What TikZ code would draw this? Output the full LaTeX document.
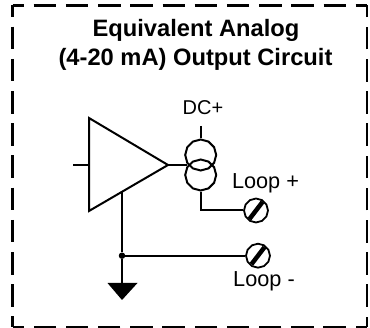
\documentclass[tikz,border=0pt]{standalone}
\usepackage{fontspec}
\setmainfont{Liberation Sans}
\usetikzlibrary{shapes.geometric}
\tikzset{
  wire/.style={line width=2pt,black},
  lobe/.style={regular polygon,regular polygon sides=12,regular polygon rotate=15,draw,line width=2pt,minimum size=31pt,inner sep=0pt},
  termnode/.style={regular polygon,regular polygon sides=12,regular polygon rotate=15,draw,line width=1.8pt,minimum size=24pt,inner sep=0pt,fill=white},
  slot/.style={line width=4.5pt,black},
  lbl/.style={font=\fontsize{21.7}{21.7}\selectfont,inner sep=0pt,anchor=base},
  dclbl/.style={font=\fontsize{20}{20}\selectfont,inner sep=0pt,anchor=base},
  ttl/.style={font=\bfseries\fontsize{23.7}{23.7}\selectfont,inner sep=0pt,anchor=base},
  framebox/.style={line width=2.2pt,dash pattern=on 22.5pt off 9.7pt}
}
\begin{document}
\begin{tikzpicture}[x=1pt,y=-1pt]
\useasboundingbox (0,0) rectangle (370,328);
\coordinate (fa) at (12.5,5.5);
\coordinate (fb) at (367,5.5);
\coordinate (fc) at (367,327.2);
\coordinate (fd) at (12.5,327.2);
\draw[framebox,dash phase=11] (fa) -- (fb);
\draw[framebox,dash phase=11] (fa) -- (fd);
\draw[framebox,dash phase=12] (fc) -- (fb);
\draw[framebox,dash phase=11] (fc) -- (fd);
\node[ttl] (title1) at (196,36.7) {Equivalent Analog};
\node[ttl] (title2) at (195.5,66) {(4-20 mA) Output Circuit};
% amplifier
\coordinate (ampTop) at (89,118);
\coordinate (ampBot) at (89,211);
\coordinate (ampTip) at (168,165);
\coordinate (ampMid) at (89,165);
\coordinate (inEnd) at (73,165);
\draw[wire,line join=miter] (ampTop) -- (ampTip) -- (ampBot) -- cycle;
\draw[wire] (inEnd) -- (ampMid);
% current source
\node[lobe] (up) at (200.7,155) {};
\node[lobe] (lo) at (200.7,175) {};
\coordinate (dcEnd) at (200.7,126);
\coordinate (stemEnd) at (187,165);
\node[dclbl] (dc) at (203,115) {DC+};
\draw[wire] (dcEnd) -- (up.north);
\draw[wire] (ampTip) -- (stemEnd);
% terminals
\node[termnode] (t1) at (256,210.5) {};
\node[termnode] (t2) at (258,255.7) {};
\draw[slot] (t1.center) ++(-6.5,8.5) -- ++(13,-17);
\draw[slot] (t2.center) ++(-6.5,8.5) -- ++(13,-17);
\node[lbl] (l1) at (265.5,189) {Loop +};
\node[lbl] (l2) at (264,286.7) {Loop -};
\coordinate (bend) at (200.7,210.5);
\draw[wire] (lo.south) -- (bend) -- (t1.west);
% ground
\coordinate (ampOut) at (122,192);
\node[circle,fill=black,inner sep=0pt,minimum size=6.5pt] (jn) at (122,255.7) {};
\coordinate (gndL) at (107.5,283);
\coordinate (gndR) at (137.5,283);
\coordinate (gndT) at (122,300);
\coordinate (gndC) at (122,283);
\draw[wire] (ampOut) -- (jn) -- (gndC);
\draw[wire] (jn) -- (t2.west);
\fill[black] (gndL) -- (gndR) -- (gndT) -- cycle;
\end{tikzpicture}
\end{document}
